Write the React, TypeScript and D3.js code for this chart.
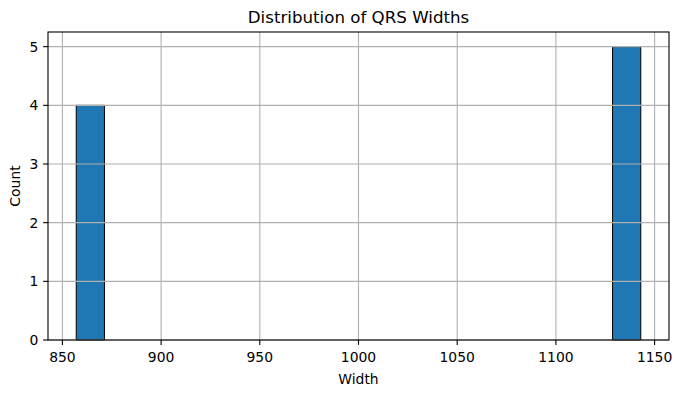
import React from "react";
import * as d3 from "d3";

const qrsWidths: number[] = [857, 861, 865, 870, 1130, 1135, 1139, 1141, 1143];
const binCount = 20;
const xTicks: number[] = [850, 900, 950, 1000, 1050, 1100, 1150];
const yTicks: number[] = [0, 1, 2, 3, 4, 5];
const titleText = "Distribution of QRS Widths";
const xLabel = "Width";
const yLabel = "Count";

export default function App() {
  const W = 681, H = 393;
  const left = 48, right = 669, top = 32, bottom = 340;
  const mn = d3.min(qrsWidths)!;
  const mx = d3.max(qrsWidths)!;
  const step = (mx - mn) / binCount;
  const thresholds = d3.range(1, binCount).map((i) => mn + i * step);
  const bins = d3.bin().domain([mn, mx]).thresholds(thresholds)(qrsWidths);
  const pad = (mx - mn) * 0.05;
  const x = d3.scaleLinear().domain([mn - pad, mx + pad]).range([left, right]);
  const maxC = d3.max(bins, (b) => b.length)!;
  const y = d3.scaleLinear().domain([0, maxC * 1.05]).range([bottom, top]);
  const font = "DejaVu Sans, sans-serif";
  const grid = "#b0b0b0";
  return (
    <svg width={W} height={H} style={{ position: "absolute", left: 0, top: 0 }} fontFamily={font}>
      <rect x={0} y={0} width={W} height={H} fill="#fff" />
      {bins.map((b, i) => {
        const x0 = x(b.x0!), x1 = x(b.x1!);
        const y0 = y(b.length);
        return (
          <rect key={i} x={x0} y={y0} width={x1 - x0} height={bottom - y0}
            fill="#1f77b4" stroke="#000" strokeWidth={1} />
        );
      })}
      {xTicks.map((t) => (
        <line key={"gx" + t} x1={x(t)} x2={x(t)} y1={top} y2={bottom} stroke={grid} strokeWidth={1.1} />
      ))}
      {yTicks.map((t) => (
        <line key={"gy" + t} x1={left} x2={right} y1={y(t)} y2={y(t)} stroke={grid} strokeWidth={1.1} />
      ))}
      <rect x={left} y={top} width={right - left} height={bottom - top} fill="none" stroke="#000" strokeWidth={1.1} />
      {xTicks.map((t) => (
        <g key={"tx" + t}>
          <line x1={x(t)} x2={x(t)} y1={bottom} y2={bottom + 4.9} stroke="#000" strokeWidth={1.1} />
          <text x={x(t)} y={bottom + 21.5} fontSize={13.9} textAnchor="middle" fill="#000">{t}</text>
        </g>
      ))}
      {yTicks.map((t) => (
        <g key={"ty" + t}>
          <line x1={left - 4.9} x2={left} y1={y(t)} y2={y(t)} stroke="#000" strokeWidth={1.1} />
          <text x={left - 9.7} y={y(t)} dy="0.36em" fontSize={13.9} textAnchor="end" fill="#000">{t}</text>
        </g>
      ))}
      <text x={(left + right) / 2} y={top - 9} fontSize={16.67} textAnchor="middle" fill="#000">{titleText}</text>
      <text x={(left + right) / 2} y={384} fontSize={13.9} textAnchor="middle" fill="#000">{xLabel}</text>
      <text transform={`translate(20,${(top + bottom) / 2}) rotate(-90)`} fontSize={13.9} textAnchor="middle" fill="#000">{yLabel}</text>
    </svg>
  );
}
